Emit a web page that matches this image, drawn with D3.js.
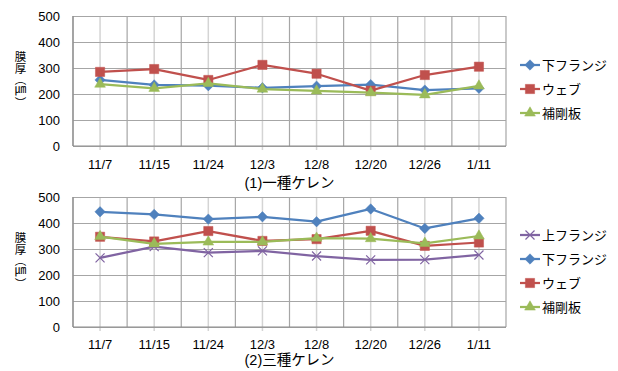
<!DOCTYPE html>
<html>
<head>
<meta charset="utf-8">
<script src="https://cdn.jsdelivr.net/npm/d3@7"></script>
<style>
  html, body { margin: 0; padding: 0; background: #fff; }
  svg { display: block; }
  text { font-family: "Liberation Sans", "Noto Sans CJK JP", sans-serif; fill: #000; }
  .jp { font-family: "Noto Sans CJK JP", sans-serif; }
  .vtitle { writing-mode: vertical-rl; text-orientation: upright; }
</style>
</head>
<body>
<svg id="chart" width="618" height="371"></svg>
<script>
// Measurement dates (category axis)
const dates = ["11/7", "11/15", "11/24", "12/3", "12/8", "12/20", "12/26", "1/11"];
const yTicks = [0, 100, 200, 300, 400, 500];

// (1) 一種ケレン — film thickness (µm)
const k1Lower = [254, 235, 232, 224, 230, 236, 215, 222];
const k1Web = [285, 296, 254, 312, 278, 213, 273, 305];
const k1Stiff = [238, 222, 241, 219, 212, 205, 197, 231];

// (2) 三種ケレン — film thickness (µm)
const k3Upper = [266, 309, 286, 293, 273, 258, 259, 277];
const k3Lower = [443, 433, 415, 424, 405, 454, 379, 418];
const k3Web = [347, 329, 369, 331, 338, 370, 312, 325];
const k3Stiff = [348, 320, 327, 327, 342, 340, 322, 350];

const axisTitle = "膜厚（㎛）";

const seriesStyle = {
  upper: { name: "上フランジ", color: "#8064A2", symbol: "x" },
  lower: { name: "下フランジ", color: "#4F81BD", symbol: "diamond" },
  web: { name: "ウェブ", color: "#C0504D", symbol: "square" },
  stiff: { name: "補剛板", color: "#9BBB59", symbol: "triangle" }
};

const panels = [
  {
    title: "(1)一種ケレン",
    top: 16, bottom: 146,
    tickBaseline: 169, titleBaseline: 188,
    legendY: [65, 89, 113],
    series: [
      { key: "lower", values: k1Lower },
      { key: "web", values: k1Web },
      { key: "stiff", values: k1Stiff }
    ]
  },
  {
    title: "(2)三種ケレン",
    top: 197, bottom: 327,
    tickBaseline: 349, titleBaseline: 365,
    legendY: [235, 259, 283, 307],
    series: [
      { key: "upper", values: k3Upper },
      { key: "lower", values: k3Lower },
      { key: "web", values: k3Web },
      { key: "stiff", values: k3Stiff }
    ]
  }
];

const svg = d3.select("#chart");
const left = 73, right = 506;

// Marker shapes: rotated-square diamond, square, triangle, cross
const symbolPath = {
  diamond: "M0,-5.2L5.2,0L0,5.2L-5.2,0Z",
  square: d3.symbol().type(d3.symbolSquare).size(85)(),
  triangle: d3.symbol().type(d3.symbolTriangle).size(50)(),
  x: d3.symbol().type(d3.symbolX).size(55)()
};

function drawMarker(g, style, cx, cy) {
  const p = g.append("path")
    .attr("d", symbolPath[style.symbol])
    .attr("transform", `translate(${cx},${cy})`);
  if (style.symbol === "x") {
    p.attr("fill", "none").attr("stroke", style.color).attr("stroke-width", 1.2);
  } else {
    p.attr("fill", style.color).attr("stroke", style.color).attr("stroke-width", 0.5);
  }
}

panels.forEach(panel => {
  const g = svg.append("g");
  const x = d3.scaleBand().domain(dates).range([left, right]);
  const y = d3.scaleLinear().domain([0, 500]).range([panel.bottom, panel.top]);
  const bw = x.bandwidth();

  // light gridlines through each category centre
  g.append("g")
    .selectAll("line")
    .data(dates)
    .join("line")
    .attr("x1", d => x(d) + bw / 2).attr("x2", d => x(d) + bw / 2)
    .attr("y1", panel.top).attr("y2", panel.bottom + 4)
    .attr("stroke", "#d4d4d4").attr("stroke-width", 1.5);

  // darker gridlines between categories
  const bounds = dates.map(d => x(d)).concat([right]);
  g.append("g")
    .selectAll("line")
    .data(bounds)
    .join("line")
    .attr("x1", d => d).attr("x2", d => d)
    .attr("y1", panel.top).attr("y2", panel.bottom)
    .attr("stroke", "#a6a6a6").attr("stroke-width", 1.2);

  // value gridlines and labels
  const yAxis = g.append("g")
    .attr("transform", `translate(${left},0)`)
    .call(d3.axisLeft(y).tickValues(yTicks).tickSize(-(right - left)).tickPadding(13));
  yAxis.select(".domain").remove();
  yAxis.selectAll(".tick line").attr("stroke", "#a6a6a6").attr("stroke-width", 1.2);
  yAxis.selectAll(".tick text").attr("font-size", 13).attr("fill", "#000")
    .style("font-family", '"Liberation Sans", sans-serif');

  // axis lines
  g.append("line")
    .attr("x1", left).attr("x2", left)
    .attr("y1", panel.top).attr("y2", panel.bottom)
    .attr("stroke", "#8c8c8c").attr("stroke-width", 1.2);
  g.append("line")
    .attr("x1", left).attr("x2", right)
    .attr("y1", panel.bottom).attr("y2", panel.bottom)
    .attr("stroke", "#8c8c8c").attr("stroke-width", 1.2);

  // category labels
  g.append("g")
    .selectAll("text")
    .data(dates)
    .join("text")
    .attr("x", d => x(d) + bw / 2)
    .attr("y", panel.tickBaseline)
    .attr("text-anchor", "middle")
    .attr("font-size", 13)
    .text(d => d);

  // panel caption
  g.append("text")
    .attr("x", (left + right) / 2)
    .attr("y", panel.titleBaseline)
    .attr("text-anchor", "middle")
    .attr("font-size", 14.5)
    .text(panel.title);

  // vertical axis title, set in vertical writing mode
  g.append("text")
    .attr("class", "jp vtitle")
    .attr("x", 20.5)
    .attr("y", panel.top + 64)
    .attr("text-anchor", "middle")
    .attr("font-size", 11.5)
    .text(axisTitle);

  // series lines and markers
  const line = d3.line()
    .x((d, i) => x(dates[i]) + bw / 2)
    .y(d => y(d));

  panel.series.forEach(s => {
    const st = seriesStyle[s.key];
    const sg = g.append("g");
    sg.append("path")
      .datum(s.values)
      .attr("d", line)
      .attr("fill", "none")
      .attr("stroke", st.color)
      .attr("stroke-width", 2.25)
      .attr("stroke-linejoin", "round");
    s.values.forEach((v, i) => drawMarker(sg, st, x(dates[i]) + bw / 2, y(v)));
  });

  // legend
  panel.series.forEach((s, i) => {
    const st = seriesStyle[s.key];
    const ly = panel.legendY[i];
    const lg = g.append("g");
    lg.append("line")
      .attr("x1", 520).attr("x2", 540)
      .attr("y1", ly).attr("y2", ly)
      .attr("stroke", st.color).attr("stroke-width", 2.25);
    drawMarker(lg, st, 530, ly);
    lg.append("text")
      .attr("class", "jp")
      .attr("x", 542)
      .attr("y", ly)
      .attr("dy", "0.36em")
      .attr("font-size", 13)
      .text(st.name);
  });
});
</script>
</body>
</html>
